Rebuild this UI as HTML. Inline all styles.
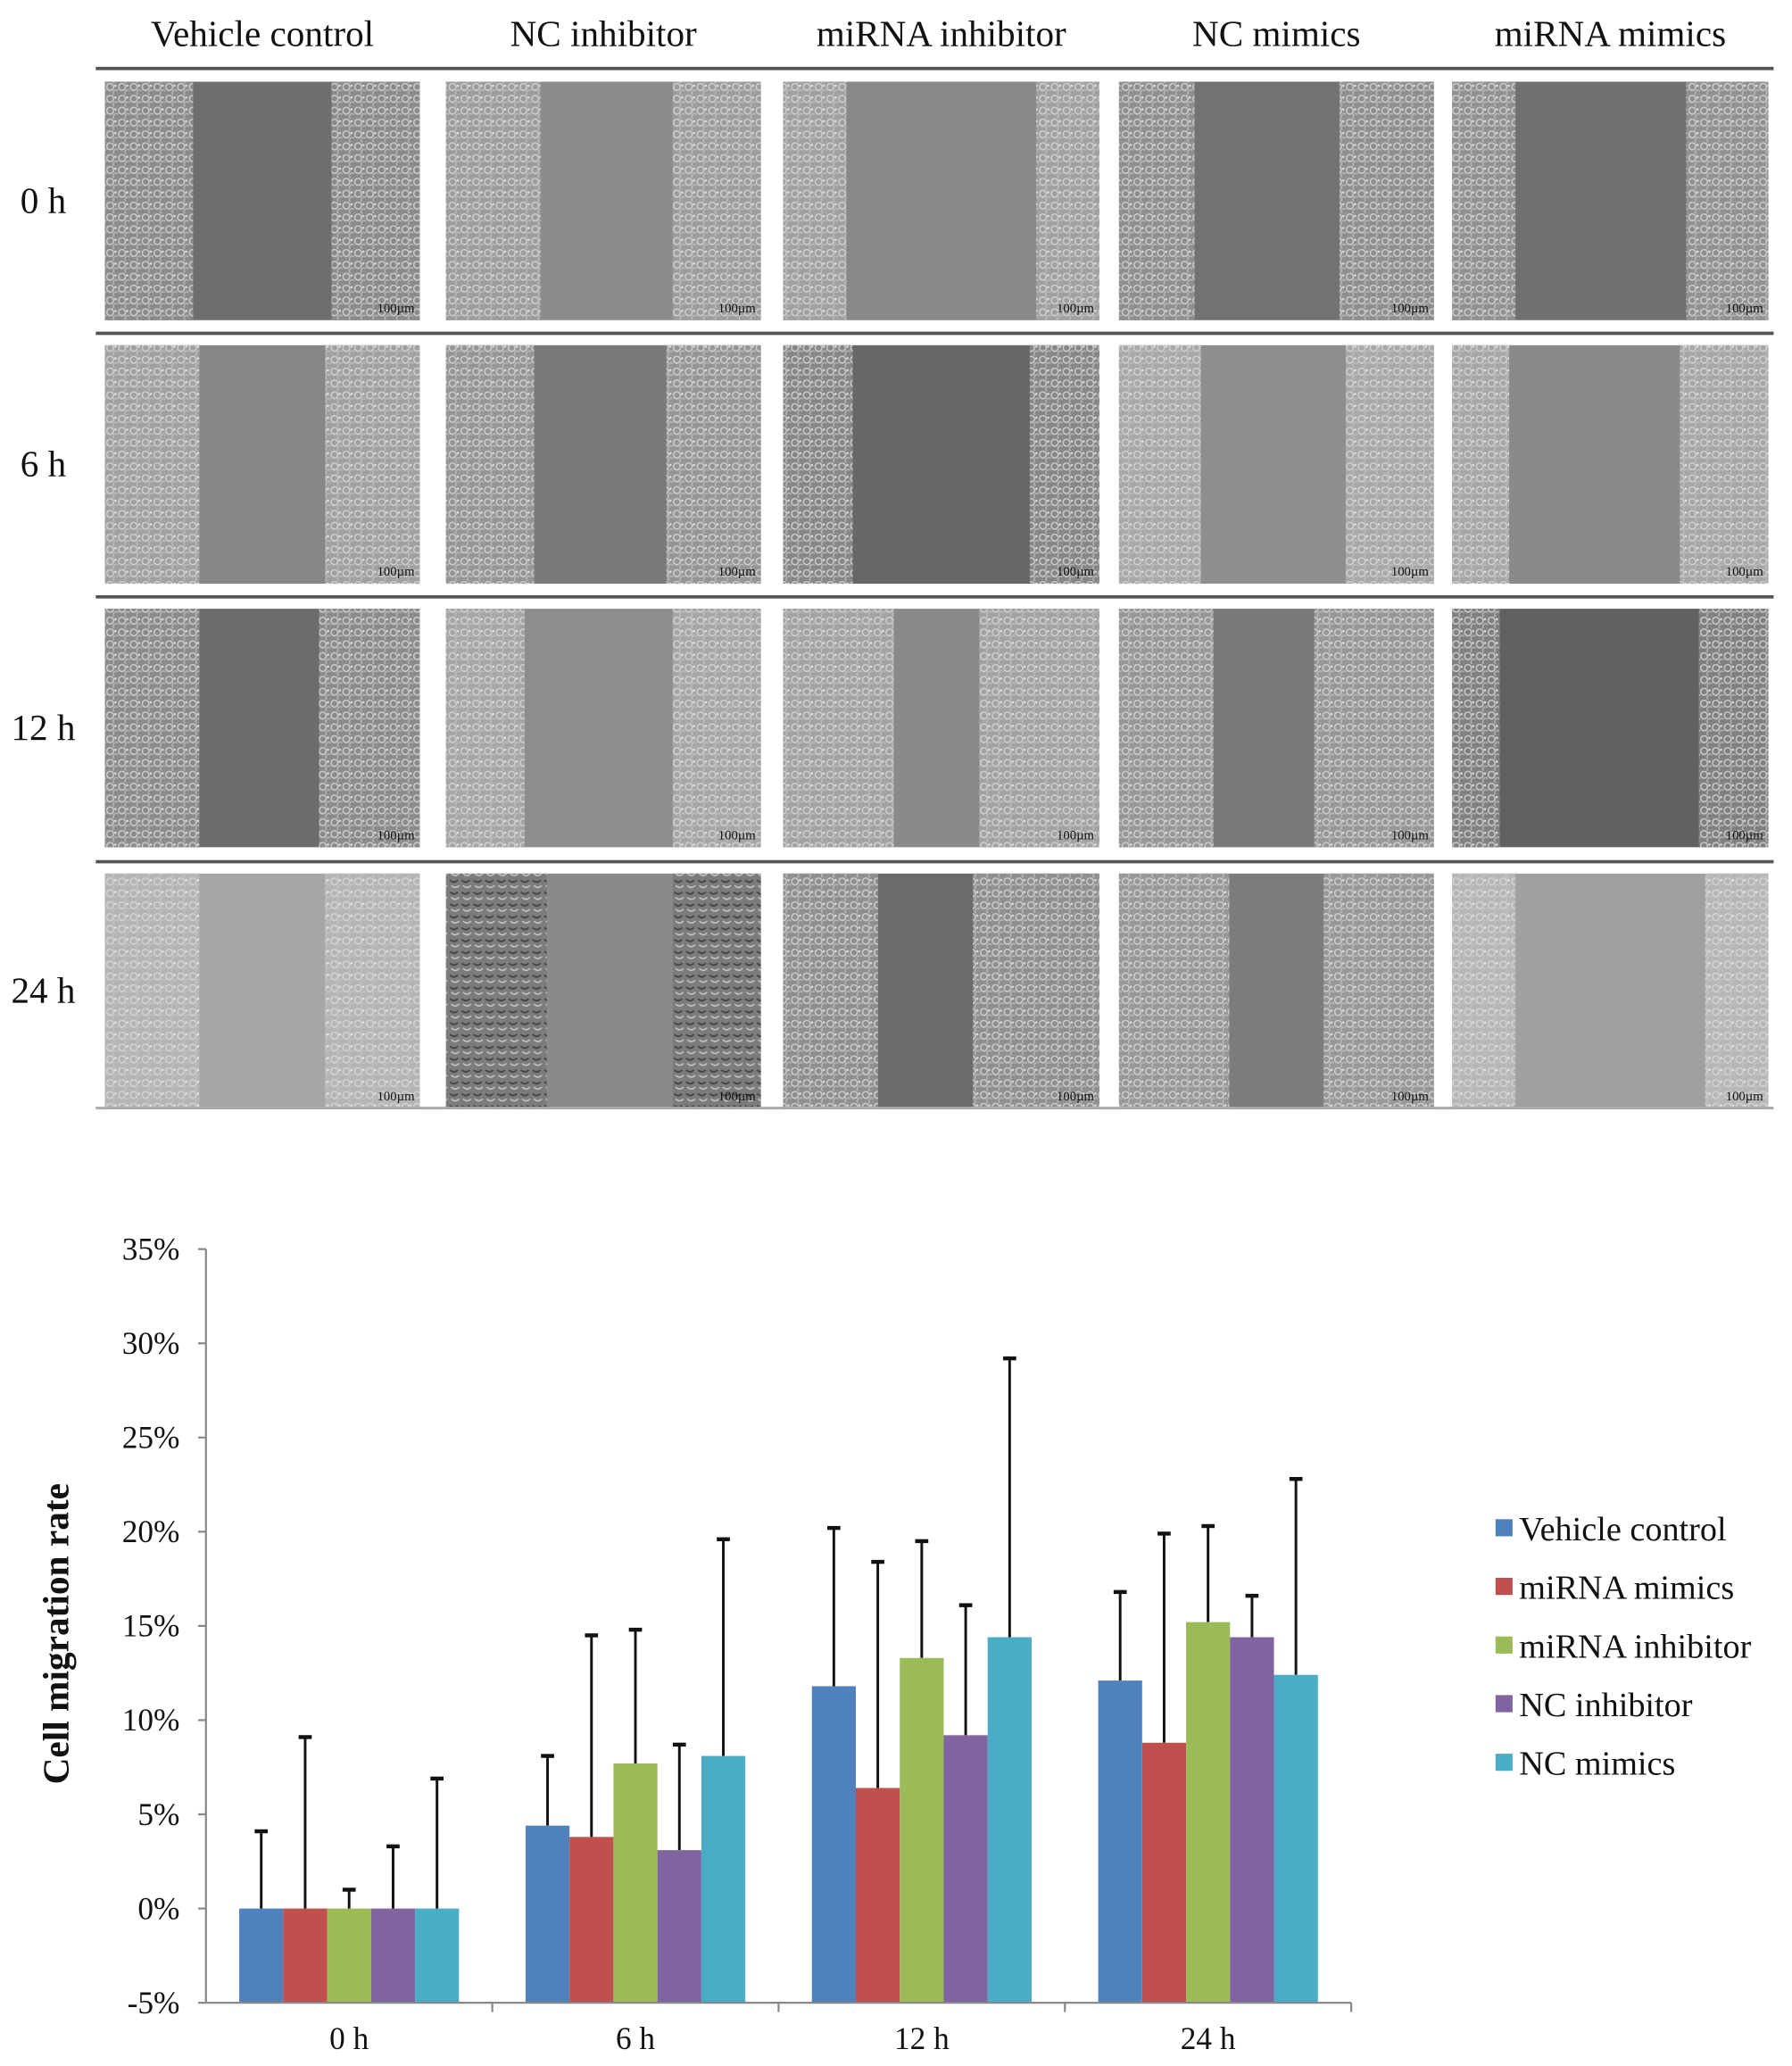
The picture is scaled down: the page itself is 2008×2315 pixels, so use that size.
<!DOCTYPE html>
<html><head><meta charset="utf-8">
<style>
html,body{margin:0;padding:0;background:#fff;}
svg{display:block;}
text{font-family:"Liberation Serif",serif;fill:#111;}
</style></head>
<body>
<svg id="fig" width="2008" height="2315" viewBox="0 0 1366 1568" preserveAspectRatio="none" xmlns="http://www.w3.org/2000/svg">
<defs>
<pattern id="cells" width="9" height="9" patternUnits="userSpaceOnUse">
<circle cx="3" cy="3" r="2.6" fill="none" stroke="#d8d8d8" stroke-width="1.1"/>
<circle cx="7.5" cy="7.5" r="2.2" fill="none" stroke="#c4c4c4" stroke-width="1"/>
<circle cx="7" cy="2" r="0.9" fill="#eee"/>
</pattern>
<pattern id="cellsdark" width="9" height="9" patternUnits="userSpaceOnUse">
<path d="M1 2 q3 3 6 0" fill="none" stroke="#333" stroke-width="1.2"/>
<path d="M2 6 q3 3 6 0" fill="none" stroke="#ddd" stroke-width="1"/>
</pattern>
</defs>
<g id="micro"></g>
<g id="chart"></g>
</svg>
<script>
// ---------- chart data ----------
const categories = ["0 h","6 h","12 h","24 h"];
const seriesNames = ["Vehicle control","miRNA mimics","miRNA inhibitor","NC inhibitor","NC mimics"];
const seriesColors = ["#4F81BD","#C0504D","#9BBB59","#8064A2","#4BACC6"];
const vehicleControl = [0, 4.4, 11.8, 12.1];
const miRNAMimics = [0, 3.8, 6.4, 8.8];
const miRNAInhibitor = [0, 7.7, 13.3, 15.2];
const ncInhibitor = [0, 3.1, 9.2, 14.4];
const ncMimics = [0, 8.1, 14.4, 12.4];
const vehicleControlErrTop = [4.1, 8.1, 20.2, 16.8];
const miRNAMimicsErrTop = [9.1, 14.5, 18.4, 19.9];
const miRNAInhibitorErrTop = [1.0, 14.8, 19.5, 20.3];
const ncInhibitorErrTop = [3.3, 8.7, 16.1, 16.6];
const ncMimicsErrTop = [6.9, 19.6, 29.2, 22.8];
const yTicks = [-5,0,5,10,15,20,25,30,35];
const colLabels = ["Vehicle control","NC inhibitor","miRNA inhibitor","NC mimics","miRNA mimics"];
const rowLabels = ["0 h","6 h","12 h","24 h"];

const NS="http://www.w3.org/2000/svg";
function mk(tag,attrs,parent){const e=document.createElementNS(NS,tag);for(const k in attrs)e.setAttribute(k,attrs[k]);parent.appendChild(e);return e;}

// ---------- micrographs ----------
const micro=document.getElementById('micro');
const colX=[80,340,597,853,1107], colW=[240,240,241,240,241];
const rowY=[62,262,462,663], rowH=[181,181,181,178];
const looks=[
 [["#6e6e6e","#8a8a8a",.28,.72],["#8c8c8c","#9c9c9c",.3,.72],["#888","#a0a0a0",.2,.8],["#727272","#8e8e8e",.24,.7],["#707070","#909090",.2,.74]],
 [["#878787","#a0a0a0",.3,.7],["#7a7a7a","#959595",.28,.7],["#676767","#868686",.22,.78],["#8e8e8e","#a8a8a8",.26,.72],["#8a8a8a","#a6a6a6",.18,.72]],
 [["#6c6c6c","#8a8a8a",.3,.68],["#8d8d8d","#a6a6a6",.25,.72],["#8a8a8a","#a2a2a2",.35,.62],["#7a7a7a","#969696",.3,.62],["#616161","#7f7f7f",.15,.78]],
 [["#a6a6a6","#b4b4b4",.3,.7],["#8a8a8a","#7c7c7c",.32,.72],["#6c6c6c","#8e8e8e",.3,.6],["#7c7c7c","#979797",.35,.65],["#a0a0a0","#b6b6b6",.2,.8]]
];
colLabels.forEach((t,i)=>{
  const el=mk('text',{x:colX[i]+colW[i]/2,y:35,'text-anchor':'middle','font-size':28},micro);el.textContent=t;
  
  
});
mk('line',{x1:73,x2:1352,y1:52,y2:52,stroke:'#555','stroke-width':2.5},micro);
rowLabels.forEach((t,r)=>{
  const el=mk('text',{x:33,y:rowY[r]+rowH[r]/2+9,'text-anchor':'middle','font-size':28},micro);el.textContent=t;
  
  
  if(r>0){mk('line',{x1:73,x2:1352,y1:rowY[r]-9,y2:rowY[r]-9,stroke:'#555','stroke-width':2.5},micro);}
  colX.forEach((x,c)=>{
    const L=looks[r][c],w=colW[c],h=rowH[r],y=rowY[r];
    const g=mk('g',{},micro);
    
    
    mk('rect',{x:x,y:y,width:w,height:h,fill:L[0]},g);
    const pat=(r==3&&c==1)?'url(#cellsdark)':'url(#cells)';
    mk('rect',{x:x,y:y,width:w*L[2],height:h,fill:L[1]},g);
    mk('rect',{x:x,y:y,width:w*L[2],height:h,fill:pat,opacity:.8},g);
    mk('rect',{x:x+w*L[3],y:y,width:w*(1-L[3]),height:h,fill:L[1]},g);
    mk('rect',{x:x+w*L[3],y:y,width:w*(1-L[3]),height:h,fill:pat,opacity:.8},g);
    const sb=mk('text',{x:x+w-4,y:y+h-6,'text-anchor':'end','font-size':10,fill:'#111'},g);sb.textContent='100µm';
  });
});
mk('line',{x1:73,x2:1352,y1:841,y2:841,stroke:'#aaa','stroke-width':2},micro);

// ---------- chart ----------
const chart=document.getElementById('chart');
const X0=157,X1=1030,Yb=1520,Yt=948,vmin=-5,vmax=35;
const yS=v=>Yb-(v-vmin)/(vmax-vmin)*(Yb-Yt);
const groupW=(X1-X0)/categories.length;
const barW=33.5;
const xS=(ci,si)=>X0+groupW*ci+groupW/2-barW*2.5+barW*si;
const all=[vehicleControl,miRNAMimics,miRNAInhibitor,ncInhibitor,ncMimics];
const errs=[vehicleControlErrTop,miRNAMimicsErrTop,miRNAInhibitorErrTop,ncInhibitorErrTop,ncMimicsErrTop];
yTicks.forEach(v=>{
  mk('line',{x1:X0-6,x2:X0,y1:yS(v),y2:yS(v),stroke:'#888','stroke-width':1.5},chart);
  const t=mk('text',{x:X0-20,y:yS(v)+8,'text-anchor':'end','font-size':24},chart);t.textContent=v+'%';
  
  
});
all.forEach((s,si)=>{s.forEach((v,ci)=>{
  const cx=xS(ci,si)+barW/2;
  const l=mk('line',{x1:cx,x2:cx,y1:yS(v),y2:yS(errs[si][ci]),stroke:'#111','stroke-width':2},chart);
  
  
  mk('line',{x1:cx-5,x2:cx+5,y1:yS(errs[si][ci]),y2:yS(errs[si][ci]),stroke:'#111','stroke-width':3},chart);
});});
all.forEach((s,si)=>{s.forEach((v,ci)=>{
  const y0=yS(vmin),y1=yS(v);
  const b=mk('rect',{x:xS(ci,si),y:Math.min(y0,y1),width:barW,height:Math.abs(y0-y1),fill:seriesColors[si]},chart);
  
  
});});
mk('line',{x1:X0,x2:X0,y1:Yt,y2:Yb,stroke:'#888','stroke-width':1.5},chart);
mk('line',{x1:X0,x2:X1,y1:Yb,y2:Yb,stroke:'#888','stroke-width':1.5},chart);
categories.forEach((c,ci)=>{
  mk('line',{x1:X0+groupW*(ci+1),x2:X0+groupW*(ci+1),y1:Yb,y2:Yb+7,stroke:'#888','stroke-width':1.5},chart);
  const t=mk('text',{x:X0+groupW*(ci+.5),y:Yb+35,'text-anchor':'middle','font-size':24},chart);t.textContent=c;
  
  
});
const yt=mk('text',{x:0,y:0,'text-anchor':'middle','font-size':28,'font-weight':'bold',transform:'translate(52,1240) rotate(-90)'},chart);
yt.textContent='Cell migration rate';


seriesNames.forEach((n,si)=>{
  const y=1160+si*44.5;
  const g=mk('g',{},chart);
  
  
  mk('rect',{x:1140,y:y-7,width:13,height:13,fill:seriesColors[si]},g);
  const t=mk('text',{x:1158,y:y+9,'font-size':26},g);t.textContent=n;
});
</script>
</body></html>
